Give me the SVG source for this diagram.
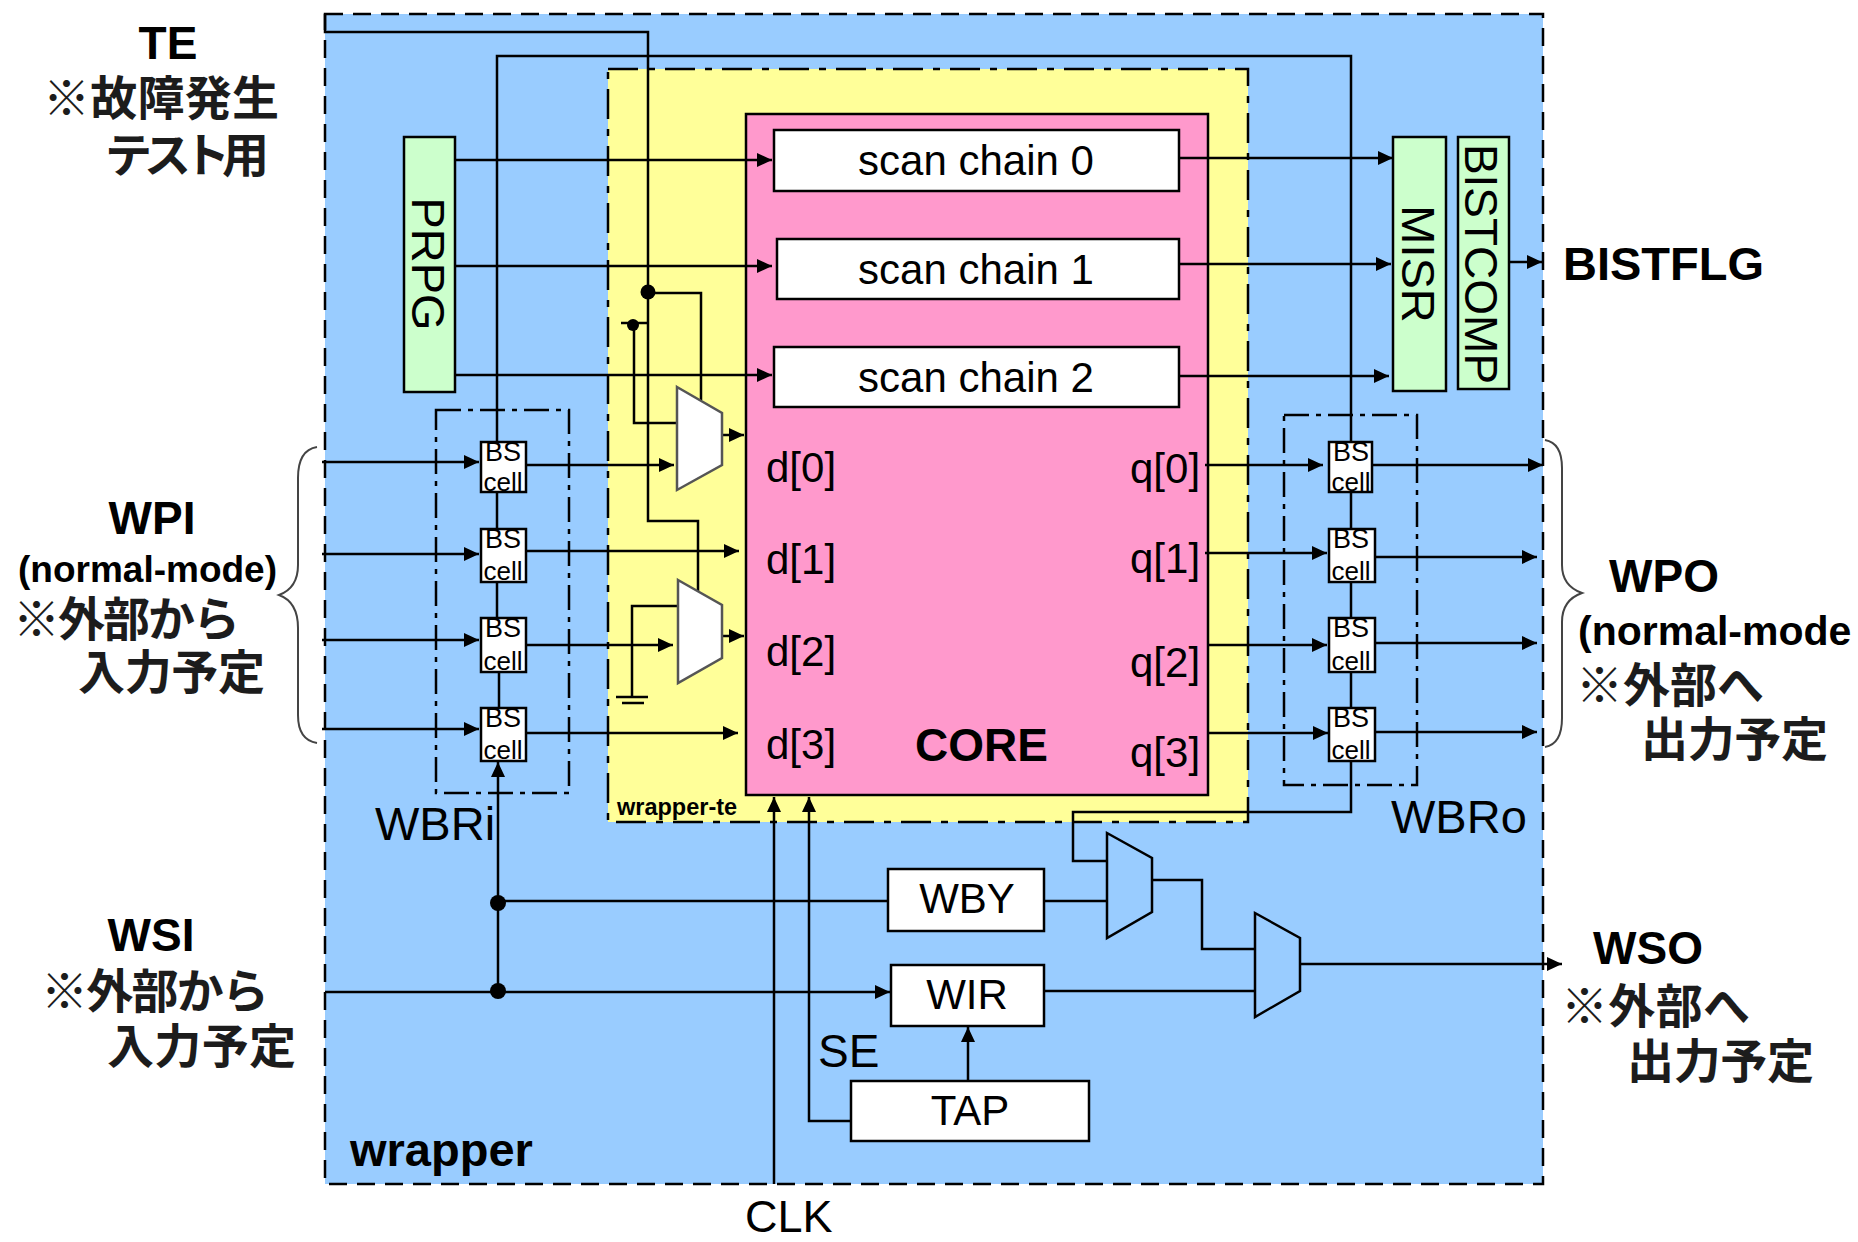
<svg xmlns="http://www.w3.org/2000/svg" width="1858" height="1242" viewBox="0 0 1858 1242">
<style>
text{font-family:"Liberation Sans",Arial,sans-serif;fill:#000}
.b{font-weight:bold;font-size:46px}
.l{font-size:47px}
.m{font-size:42px}
.r{font-size:47px}
.mid{text-anchor:middle}
.j{font-family:"Liberation Sans","Noto Sans CJK JP",sans-serif;font-weight:bold;font-size:47px;fill:#1c1c1c}
.w{stroke:#000;stroke-width:2.5;fill:none}
.a{marker-end:url(#arr)}
.box{fill:#fff;stroke:#000;stroke-width:2.5}
.grn{fill:#CCFFCC;stroke:#000;stroke-width:2.5}
.bs{font-size:27px}
.ce{font-size:26px}
.mw{fill:#fff;stroke:#555;stroke-width:2.5}
.mb{fill:#99CCFF;stroke:#000;stroke-width:2.5}
.wbr{fill:none;stroke:#000;stroke-width:2.5;stroke-dasharray:25 7 5 7}
.brace{fill:none;stroke:#444;stroke-width:2}
</style>
<defs>
<marker id="arr" markerUnits="userSpaceOnUse" markerWidth="16" markerHeight="16" refX="15" refY="8" orient="auto">
<path d="M0 1L15 8L0 15Z" fill="#000"/>
</marker>
</defs>
<g id="wrapper"><rect x="325" y="14" width="1218" height="1170" fill="#99CCFF" stroke="#000" stroke-width="2.5" stroke-dasharray="18 10"/></g>
<g id="wrapper-te"><rect x="608" y="69" width="640" height="753" fill="#FFFF99" stroke="#000" stroke-width="2.5" stroke-dasharray="30 10 7 10"/></g>
<g id="core"><rect x="746" y="114" width="462" height="681" fill="#FF99CC" stroke="#000" stroke-width="2.5"/></g>
<g id="wbri"><rect x="436" y="410" width="133" height="383" class="wbr"/></g>
<g id="wbro"><rect x="1284" y="415" width="133" height="370" class="wbr"/></g>
<g id="connectors">
<path class="w" d="M325 14V32H648V521H698V592"/>
<path class="w" d="M497 442V56H1351V442"/>
<path class="w" d="M648 293H701V400"/>
<path class="w" d="M621 323H648"/>
<path class="w" d="M634 325V423H678"/>
<path class="w" d="M678 606H632V697"/>
<path class="w" d="M616 697H648M622 703H644"/>
<path class="w a" d="M455 160H772"/>
<path class="w a" d="M455 266H772"/>
<path class="w a" d="M455 375H772"/>
<path class="w a" d="M1179 158H1393"/>
<path class="w a" d="M1179 264H1391"/>
<path class="w a" d="M1179 376H1389"/>
<path class="w a" d="M1509 262H1542"/>
<path class="w a" d="M722 435H744"/>
<path class="w a" d="M722 636H744"/>
<path class="w a" d="M322 462H479"/>
<path class="w a" d="M322 554H479"/>
<path class="w a" d="M322 640H479"/>
<path class="w a" d="M322 729H479"/>
<path class="w a" d="M526 465H674"/>
<path class="w a" d="M526 551H739"/>
<path class="w a" d="M526 645H673"/>
<path class="w a" d="M526 733H738"/>
<path class="w" d="M497 492V529M497 582V618M499 672V708"/>
<path class="w a" d="M498 991V762"/>
<path class="w a" d="M1205 465H1323"/>
<path class="w a" d="M1205 553H1327"/>
<path class="w a" d="M1208 645H1327"/>
<path class="w a" d="M1208 733H1328"/>
<path class="w a" d="M1372 465H1543"/>
<path class="w a" d="M1375 557H1537"/>
<path class="w a" d="M1375 643H1537"/>
<path class="w a" d="M1375 732H1537"/>
<path class="w" d="M1351 492V529M1351 582V618M1351 672V708"/>
<path class="w" d="M1351 761V812H1073V861H1107"/>
<path class="w" d="M498 901H888M1044 901H1107"/>
<path class="w" d="M1152 880H1202V949H1255"/>
<path class="w a" d="M325 992H890"/>
<path class="w" d="M1044 991H1255"/>
<path class="w a" d="M1300 964H1562"/>
<path class="w a" d="M968 1081V1027"/>
<path class="w a" d="M774 1184V797"/>
<path class="w a" d="M851 1121H809V797"/>
<path class="brace" d="M317 447Q298 450 298 478V565Q298 588 279 595Q298 602 298 628V715Q298 740 317 743"/>
<path class="brace" d="M1545 440Q1562 443 1562 468V565Q1562 586 1582 593Q1562 600 1562 622V718Q1562 744 1545 747"/>
<circle cx="648" cy="292" r="7.5"/>
<circle cx="633" cy="325" r="6"/>
<circle cx="498" cy="903" r="8"/>
<circle cx="498" cy="991" r="8"/>
</g>
<g id="prpg"><rect x="404" y="137" width="51" height="255" class="grn"/><text transform="translate(412 264) rotate(90)" class="mid r">PRPG</text></g>
<g id="misr"><rect x="1393" y="137" width="53" height="254" class="grn"/><text transform="translate(1402 264) rotate(90)" class="mid r">MISR</text></g>
<g id="bistcomp"><rect x="1458" y="137" width="51" height="252" class="grn"/><text transform="translate(1465 264) rotate(90)" class="mid" font-size="46">BISTCOMP</text></g>
<g id="scan0"><rect x="774" y="130" width="405" height="61" class="box"/><text x="976" y="175" class="m mid">scan chain 0</text></g>
<g id="scan1"><rect x="777" y="239" width="402" height="60" class="box"/><text x="976" y="284" class="m mid">scan chain 1</text></g>
<g id="scan2"><rect x="774" y="347" width="405" height="60" class="box"/><text x="976" y="392" class="m mid">scan chain 2</text></g>
<g id="mux1"><path d="M677 387L722 413V465L677 490Z" class="mw"/></g>
<g id="mux2"><path d="M678 580L722 605V658L678 683Z" class="mw"/></g>
<g id="mux3"><path d="M1107 833L1152 858V912L1107 938Z" class="mb"/></g>
<g id="mux4"><path d="M1255 913L1300 938V991L1255 1017Z" class="mb"/></g>
<g id="wby"><rect x="888" y="869" width="156" height="62" class="box"/><text x="967" y="913" class="m mid">WBY</text></g>
<g id="wir"><rect x="891" y="965" width="153" height="61" class="box"/><text x="967" y="1009" class="m mid">WIR</text></g>
<g id="tap"><rect x="851" y="1081" width="238" height="60" class="box"/><text x="970" y="1125" class="m mid">TAP</text></g>
<g id="bsi0"><rect x="481" y="442" width="45" height="50" class="box"/><text x="503" y="461" class="bs mid">BS</text><text x="503" y="491" class="ce mid">cell</text></g>
<g id="bsi1"><rect x="481" y="529" width="45" height="53" class="box"/><text x="503" y="548" class="bs mid">BS</text><text x="503" y="580" class="ce mid">cell</text></g>
<g id="bsi2"><rect x="481" y="618" width="45" height="54" class="box"/><text x="503" y="637" class="bs mid">BS</text><text x="503" y="670" class="ce mid">cell</text></g>
<g id="bsi3"><rect x="481" y="708" width="45" height="53" class="box"/><text x="503" y="727" class="bs mid">BS</text><text x="503" y="759" class="ce mid">cell</text></g>
<g id="bso0"><rect x="1329" y="442" width="43" height="50" class="box"/><text x="1351" y="461" class="bs mid">BS</text><text x="1351" y="491" class="ce mid">cell</text></g>
<g id="bso1"><rect x="1329" y="529" width="46" height="53" class="box"/><text x="1351" y="548" class="bs mid">BS</text><text x="1351" y="580" class="ce mid">cell</text></g>
<g id="bso2"><rect x="1329" y="618" width="46" height="54" class="box"/><text x="1351" y="637" class="bs mid">BS</text><text x="1351" y="670" class="ce mid">cell</text></g>
<g id="bso3"><rect x="1329" y="708" width="46" height="53" class="box"/><text x="1351" y="727" class="bs mid">BS</text><text x="1351" y="759" class="ce mid">cell</text></g>
<g id="labels">
<text x="766" y="482" class="m">d[0]</text>
<text x="766" y="574" class="m">d[1]</text>
<text x="766" y="666" class="m">d[2]</text>
<text x="766" y="759" class="m">d[3]</text>
<text x="1130" y="483" class="m">q[0]</text>
<text x="1130" y="573" class="m">q[1]</text>
<text x="1130" y="677" class="m">q[2]</text>
<text x="1130" y="767" class="m">q[3]</text>
<text x="915" y="761" class="b">CORE</text>
<text x="617" y="815" font-size="23.5" font-weight="bold">wrapper-te</text>
<text x="350" y="1166" font-size="47" font-weight="bold">wrapper</text>
<text x="375" y="840" class="l">WBRi</text>
<text x="1391" y="833" class="l">WBRo</text>
<text x="745" y="1232" font-size="45">CLK</text>
<text x="818" y="1067" font-size="46">SE</text>
<text x="168" y="59" class="b mid">TE</text>
<text x="43" y="115" class="j" textLength="236">※故障発生</text>
<text x="105" y="172" class="j" textLength="164">テスト用</text>
<text x="152" y="534" class="b mid">WPI</text>
<text x="18" y="582" font-size="37" font-weight="bold">(normal-mode)</text>
<text x="13" y="636" class="j" textLength="227">※外部から</text>
<text x="78" y="689" class="j" textLength="187">入力予定</text>
<text x="151" y="951" class="b mid">WSI</text>
<text x="41" y="1008" class="j" textLength="228">※外部から</text>
<text x="107" y="1063" class="j" textLength="189">入力予定</text>
<text x="1664" y="592" class="b mid">WPO</text>
<text x="1578" y="645" font-size="41" font-weight="bold">(normal-mode</text>
<text x="1576" y="702" class="j" textLength="188">※外部へ</text>
<text x="1641" y="756" class="j" textLength="187">出力予定</text>
<text x="1563" y="280" font-size="47" font-weight="bold">BISTFLG</text>
<text x="1648" y="964" class="b mid">WSO</text>
<text x="1561" y="1023" class="j" textLength="189">※外部へ</text>
<text x="1627" y="1078" class="j" textLength="187">出力予定</text>
</g>
</svg>
